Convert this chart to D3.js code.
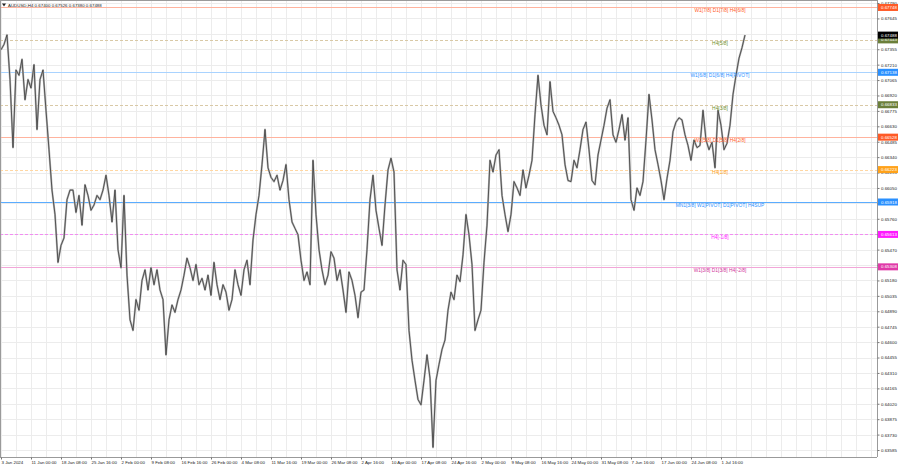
<!DOCTYPE html>
<html><head><meta charset="utf-8">
<script src="https://cdn.jsdelivr.net/npm/d3@7/dist/d3.min.js"></script>
<style>
html,body{margin:0;padding:0;background:#fff;}
svg{display:block;font-family:"Liberation Sans",Arial,sans-serif;}
</style></head>
<body>
<svg id="chart" width="900" height="468"></svg>
<script>
const closes = [
0.6735,0.6740,0.6749,0.6707,0.6643,0.6716,0.6711,0.6726,0.6688,0.6707,
0.6699,0.6721,0.6660,0.6707,0.6716,0.6678,0.6641,0.6603,0.6580,0.6535,
0.6551,0.6558,0.6594,0.6603,0.6603,0.6582,0.6598,0.6570,0.6608,0.6598,
0.6584,0.6589,0.6598,0.6594,0.6603,0.6617,0.6598,0.6573,0.6603,0.6547,
0.6530,0.6598,0.6523,0.6481,0.6471,0.6500,0.6490,0.6518,0.6528,0.6509,
0.6530,0.6514,0.6528,0.6509,0.6500,0.6448,0.6481,0.6495,0.6488,0.6500,
0.6509,0.6523,0.6539,0.6530,0.6518,0.6533,0.6514,0.6520,0.6509,0.6523,
0.6504,0.6535,0.6514,0.6500,0.6514,0.6507,0.6490,0.6500,0.6528,0.6514,
0.6504,0.6528,0.6537,0.6514,0.6556,0.6580,0.6598,0.6627,0.6660,0.6624,
0.6615,0.6611,0.6617,0.6603,0.6612,0.6627,0.6594,0.6573,0.6567,0.6561,
0.6537,0.6518,0.6526,0.6514,0.6631,0.6580,0.6547,0.6528,0.6514,0.6523,
0.6545,0.6539,0.6518,0.6528,0.6509,0.6488,0.6526,0.6518,0.6504,0.6483,
0.6507,0.6509,0.6547,0.6594,0.6617,0.6584,0.6567,0.6551,0.6589,0.6622,
0.6633,0.6620,0.6528,0.6509,0.6537,0.6533,0.6471,0.6443,0.6424,0.6406,
0.6401,0.6424,0.6448,0.6426,0.6361,0.6424,0.6439,0.6453,0.6462,0.6490,
0.6507,0.6500,0.6523,0.6517,0.6542,0.6580,0.6561,0.6533,0.6471,0.6481,
0.6490,0.6535,0.6570,0.6631,0.6620,0.6636,0.6641,0.6598,0.6580,0.6564,
0.6580,0.6611,0.6605,0.6598,0.6622,0.6605,0.6617,0.6631,0.6674,0.6711,
0.6683,0.6664,0.6655,0.6705,0.6677,0.6671,0.6664,0.6655,0.6627,0.6612,
0.6611,0.6631,0.6624,0.6641,0.6660,0.6667,0.6641,0.6612,0.6608,0.6636,
0.6650,0.6664,0.6680,0.6688,0.6655,0.6648,0.6660,0.6674,0.6650,0.6671,
0.6594,0.6584,0.6605,0.6598,0.6611,0.6650,0.6693,0.6669,0.6641,0.6627,
0.6612,0.6594,0.6614,0.6631,0.6658,0.6667,0.6671,0.6669,0.6655,0.6645,
0.6631,0.6650,0.6643,0.6645,0.6678,0.6650,0.6641,0.6648,0.6624,0.6678,
0.6664,0.6641,0.6647,0.6664,0.6693,0.6711,0.6727,0.6737,0.67488
];

// time axis labels (one every 10 samples)
const dateLabels = ["3 Jan 2024","11 Jan 00:00","18 Jan 08:00","25 Jan 16:00","2 Feb 00:00",
"9 Feb 08:00","16 Feb 16:00","26 Feb 00:00","4 Mar 08:00","11 Mar 16:00","19 Mar 00:00",
"26 Mar 08:00","2 Apr 16:00","10 Apr 00:00","17 Apr 08:00","24 Apr 16:00","2 May 00:00",
"9 May 08:00","16 May 16:00","24 May 00:00","31 May 08:00","7 Jun 16:00","17 Jun 00:00",
"24 Jun 08:00","1 Jul 16:00"];

// price axis ticks
const priceTicks = [0.67790,0.67645,0.67500,0.67355,0.67210,0.67065,0.66920,0.66775,0.66630,
0.66485,0.66340,0.66195,0.66050,0.65905,0.65760,0.65615,0.65470,0.65325,0.65180,0.65035,
0.64890,0.64745,0.64600,0.64455,0.64310,0.64165,0.64020,0.63875,0.63730,0.63585];

// Murrey math levels
const levelPrices = [0.67748,0.67443,0.67138,0.66833,0.66528,0.66223,0.65918,0.65613,0.65308];
const levelNames = ["W1[7/8] D1[7/8] H4[6/8]","H4[5/8]","W1[6/8] D1[6/8] H4[PIVOT]","H4[3/8]",
"W1[5/8] D1[5/8] H4[2/8]","H4[1/8]","MN1[3/8] W1[PIVOT] D1[PIVOT] H4SUP","H4[-1/8]",
"W1[3/8] D1[3/8] H4[-2/8]"];
const levelLine = ["#ffb39e","#d9c9a6","#a9d3ff","#d9c9a6","#ffb39e","#ffd7a3","#5aacff","#f28cf2","#f2a6d8"];
const levelText = ["#ff5a26","#6f8f2a","#2a90ff","#6f8f2a","#ff5a26","#ffa21a","#2a90ff","#ff1aff","#d0349a"];
const levelBox  = ["#ff5a26","#6b7f3a","#2a90ff","#6b7f3a","#ff5a26","#ffa21a","#2a90ff","#ff1aff","#e03aa8"];
const levelDash = [false,true,false,true,false,true,false,true,false];

const header = "AUDUSD,H4  0.67400  0.67526  0.67380  0.67488";
const lastPrice = 0.67488;

const svg = d3.select("#chart");
const plotRight = 877, plotBottom = 457;
const y = d3.scaleLinear().domain([0.67790,0.63585]).range([3,450]);
const x = d3.scaleLinear().domain([0,248]).range([1,745]);

const FS = 4.4;

// grid
const gV = d3.range(0, 59).map(k => 5*k).filter(i => x(i) < plotRight);
svg.append("g").selectAll("line").data(gV).join("line")
  .attr("x1", d=>x(d)+0.5).attr("x2", d=>x(d)+0.5).attr("y1",0).attr("y2",plotBottom)
  .attr("stroke","#ececec").attr("stroke-width",1);
svg.append("g").selectAll("line").data(priceTicks).join("line")
  .attr("x1",0).attr("x2",plotRight).attr("y1",d=>Math.round(y(d))+0.5).attr("y2",d=>Math.round(y(d))+0.5)
  .attr("stroke","#ececec").attr("stroke-width",1);

// level lines
const lv = levelPrices.map((p,i)=>({p,i}));
svg.append("g").selectAll("line").data(lv).join("line")
  .attr("x1",0).attr("x2",plotRight)
  .attr("y1",d=>Math.round(y(d.p))+0.5).attr("y2",d=>Math.round(y(d.p))+0.5)
  .attr("stroke",d=>levelLine[d.i]).attr("stroke-width",1)
  .attr("stroke-dasharray",d=>levelDash[d.i]?"3,2":null);

// price series
const pts = closes.map((c,i)=>[x(i), y(c)]);
const line = d3.line().x(d=>d[0]).y(d=>d[1]);
svg.append("path").attr("d", line(pts)).attr("fill","none")
  .attr("stroke","#b4b4b4").attr("stroke-width",2).attr("stroke-linejoin","round");
svg.append("path").attr("d", line(pts)).attr("fill","none")
  .attr("stroke","#3a3a3a").attr("stroke-width",0.8).attr("stroke-linejoin","round");

// level texts
svg.append("g").selectAll("text").data(lv).join("text")
  .attr("x",720).attr("y",d=>y(d.p)+4.8)
  .attr("text-anchor","middle").attr("font-size",4.9)
  .attr("fill",d=>levelText[d.i]).text(d=>levelNames[d.i]);

// borders
svg.append("line").attr("x1",0.5).attr("x2",0.5).attr("y1",0).attr("y2",plotBottom).attr("stroke","#9a9a9a");
svg.append("line").attr("x1",0).attr("x2",plotRight).attr("y1",0.5).attr("y2",0.5).attr("stroke","#9a9a9a");

// axes
const yAxis = d3.axisRight(y).tickValues(priceTicks).tickFormat(d3.format(".5f")).tickSize(2).tickPadding(1.5);
const gy = svg.append("g").attr("transform",`translate(${plotRight+0.5},0)`).call(yAxis);
gy.select(".domain").attr("stroke","#9a9a9a").attr("d",`M0,0V${plotBottom}`);
gy.selectAll("text").attr("font-size",FS).attr("fill","#222").attr("font-family","Liberation Sans, Arial, sans-serif");
gy.selectAll(".tick line").attr("stroke","#777");

const xTicks = dateLabels.map((d,i)=>i*10);
const xAxis = d3.axisBottom(x).tickValues(xTicks).tickFormat((d,i)=>dateLabels[i]).tickSize(2).tickPadding(1.5);
const gx = svg.append("g").attr("transform",`translate(0,${plotBottom+0.5})`).call(xAxis);
gx.select(".domain").attr("stroke","#9a9a9a").attr("d",`M0,0H${plotRight}`);
gx.selectAll("text").attr("font-size",FS).attr("fill","#222").attr("text-anchor","start")
  .attr("font-family","Liberation Sans, Arial, sans-serif");
gx.selectAll(".tick line").attr("stroke","#777");

// price boxes
const bw = 20, bh = 7;
const boxes = lv.map(d=>({p:d.p, c:levelBox[d.i]})).concat([{p:lastPrice, c:"#000"}]);
const gb = svg.append("g").selectAll("g").data(boxes).join("g")
  .attr("transform",d=>`translate(${plotRight+1},${y(d.p)})`);
gb.append("rect").attr("x",0).attr("y",-bh/2).attr("width",bw).attr("height",bh).attr("fill",d=>d.c);
gb.append("text").attr("x",3).attr("y",1.6).attr("font-size",FS).attr("fill","#fff")
  .text(d=>d3.format(".5f")(d.p));

// header
svg.append("path").attr("d","M2,3.5L6,3.5L4,6.5Z").attr("fill","#222");
svg.append("text").attr("x",8).attr("y",6.5).attr("font-size",FS).attr("fill","#222").text(header);
</script>
</body></html>
